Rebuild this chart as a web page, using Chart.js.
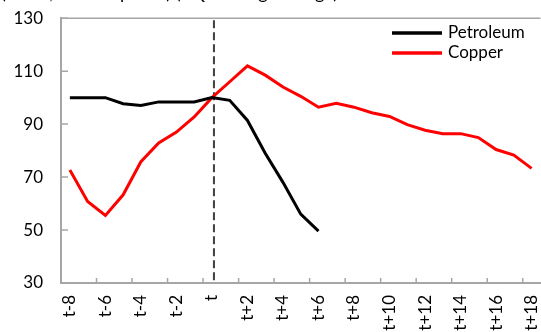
<!DOCTYPE html>
<html>
<head>
<meta charset="utf-8">
<script src="https://cdn.jsdelivr.net/npm/chart.js@4/dist/chart.umd.min.js"></script>
<style>
html,body{margin:0;padding:0;background:#fff;overflow:hidden;}
#wrap{width:541px;height:332px;position:relative;overflow:hidden;}
#c{position:absolute;left:0;top:-10px;}
</style>
</head>
<body>
<div id="wrap"><canvas id="c" width="564" height="342"></canvas></div>
<script>
// ---- data ----
const categories = ['t-8','t-7','t-6','t-5','t-4','t-3','t-2','t-1','t','t+1','t+2','t+3','t+4','t+5','t+6','t+7','t+8','t+9','t+10','t+11','t+12','t+13','t+14','t+15','t+16','t+17','t+18'];
const petroleum = [100,100,100,97.7,97,98.4,98.4,98.4,100,99,91.4,79,68,56,49.6,null,null,null,null,null,null,null,null,null,null,null,null];
const copper = [72.7,60.8,55.5,63.3,75.8,82.9,87,92.7,100,106,112,108.5,104,100.5,96.4,97.9,96.4,94.3,92.9,89.8,87.7,86.4,86.4,84.9,80.4,78.3,73.3];
const yTicks = [30,50,70,90,110,130];
const eventLabel = 't';
const titleText = '(Index, t = 100 prices) (3Q moving average)';

const FONT = 'Lato, "Open Sans", sans-serif';
const AXIS = '#A6A6A6';
const SHIFT = 10; // canvas is shifted up by this many pixels

const decor = {
  id: 'decor',
  beforeDatasetsDraw(chart) {
    const {ctx, chartArea: a, scales: {x, y}} = chart;
    ctx.save();
    // top border
    ctx.strokeStyle = AXIS; ctx.lineWidth = 1.5;
    ctx.beginPath(); ctx.moveTo(a.left, a.top); ctx.lineTo(a.right, a.top); ctx.stroke();
    // inward x ticks
    const half = (x.getPixelForValue(1) - x.getPixelForValue(0)) / 2;
    ctx.beginPath();
    for (let i = 2; i < categories.length; i += 2) {
      const px = x.getPixelForValue(i) - half;
      ctx.moveTo(px, a.bottom); ctx.lineTo(px, a.bottom - 5);
    }
    // inward y ticks
    yTicks.forEach(v => {
      const py = y.getPixelForValue(v);
      ctx.moveTo(a.left, py); ctx.lineTo(a.left + 7, py);
    });
    ctx.stroke();
    // dashed event line
    const ex = x.getPixelForValue(categories.indexOf(eventLabel)) + 2;
    ctx.strokeStyle = '#404040'; ctx.lineWidth = 2; ctx.setLineDash([8, 4]);
    ctx.beginPath(); ctx.moveTo(ex, a.top + 2); ctx.lineTo(ex, a.bottom); ctx.stroke();
    ctx.restore();
  },
  afterDraw(chart) {
    const {ctx} = chart;
    ctx.save();
    // clipped title
    ctx.font = '18px ' + FONT; ctx.fillStyle = '#000';
    ctx.textBaseline = 'alphabetic'; ctx.textAlign = 'left';
    ctx.fillText(titleText, 1, SHIFT - 1);
    // legend
    ctx.font = '17px ' + FONT;
    ctx.textBaseline = 'middle';
    const ys = [33 + SHIFT, 53 + SHIFT];
    chart.data.datasets.forEach((ds, i) => {
      ctx.strokeStyle = ds.borderColor; ctx.lineWidth = 3.5; ctx.setLineDash([]);
      ctx.beginPath(); ctx.moveTo(392, ys[i]); ctx.lineTo(442, ys[i]); ctx.stroke();
      ctx.fillStyle = '#000';
      ctx.fillText(ds.label, 448, ys[i]);
    });
    ctx.restore();
  }
};

new Chart(document.getElementById('c'), {
  type: 'line',
  data: {
    labels: categories,
    datasets: [
      {label: 'Petroleum', data: petroleum, borderColor: '#000000', borderWidth: 3, pointRadius: 0, tension: 0, spanGaps: false},
      {label: 'Copper', data: copper, borderColor: '#FF0000', borderWidth: 3, pointRadius: 0, tension: 0}
    ]
  },
  options: {
    responsive: false,
    animation: false,
    events: [],
    layout: {padding: {top: 7, right: 0, left: 0, bottom: 0}},
    plugins: {legend: {display: false}, tooltip: {enabled: false}, title: {display: false}},
    scales: {
      x: {
        offset: true,
        grid: {display: false, drawTicks: false},
        border: {color: AXIS, width: 2},
        ticks: {
          autoSkip: false, minRotation: 90, maxRotation: 90, padding: 12,
          color: '#000', font: {family: FONT, size: 17},
          callback: (v, i) => (i % 2 === 0 ? categories[i] : '')
        },
        afterFit(s) { s.height = 49; }
      },
      y: {
        min: 30, max: 130,
        afterBuildTicks(s) { s.ticks = yTicks.map(v => ({value: v})); },
        grid: {display: false, drawTicks: false},
        border: {color: AXIS, width: 2},
        ticks: {padding: 18, color: '#000', font: {family: FONT, size: 17}},
        afterFit(s) { s.width = 61; }
      }
    }
  },
  plugins: [decor]
});
</script>
</body>
</html>
